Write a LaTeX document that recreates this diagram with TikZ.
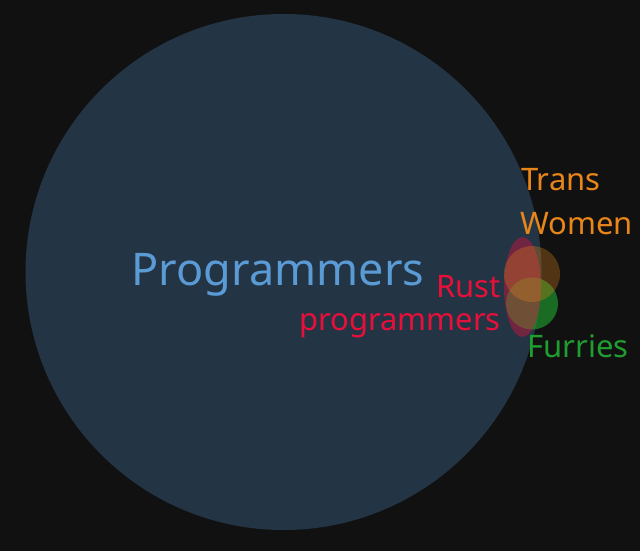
\documentclass[tikz,border=0pt]{standalone}
\usepackage{fontspec}
\setmainfont{Noto Sans}
\definecolor{bg}{HTML}{111111}
\definecolor{bigc}{HTML}{233444}
\definecolor{progc}{HTML}{5B9BD5}
\definecolor{orangec}{HTML}{E8861A}
\definecolor{redc}{HTML}{E8103A}
\definecolor{greenc}{HTML}{1F9E2F}
\tikzset{
  lbl/.style={inner sep=0pt, font=\fontsize{31}{37}\selectfont},
}
\begin{document}
\begin{tikzpicture}[x=1pt,y=-1pt]
\fill[bg] (0,0) rectangle (640,551);
\useasboundingbox (0,0) rectangle (640,551);
\fill[bigc] (283.5,272) circle (258);
\node[inner sep=0pt, anchor=base west, text=progc, font=\fontsize{45}{54}\selectfont] (prog) at (131.5,285) {Programmers};
\fill[greenc, fill opacity=0.65] (532,303.5) circle (26);
\fill[redc, fill opacity=0.4] (522.5,287) ellipse [x radius=18.5, y radius=50];
\fill[orangec, fill opacity=0.3] (532,274) circle (28);
\node[lbl, anchor=base west, text=orangec] (trans) at (521,190) {Trans};
\node[lbl, anchor=base west, text=orangec] (women) at (520,234) {Women};
\node[lbl, anchor=base east, text=redc] (rust) at (501,297.5) {Rust};
\node[lbl, anchor=base east, text=redc] (rprog) at (501,330) {programmers};
\node[lbl, anchor=base west, text=greenc] (furries) at (527,357) {Furries};
\end{tikzpicture}
\end{document}
